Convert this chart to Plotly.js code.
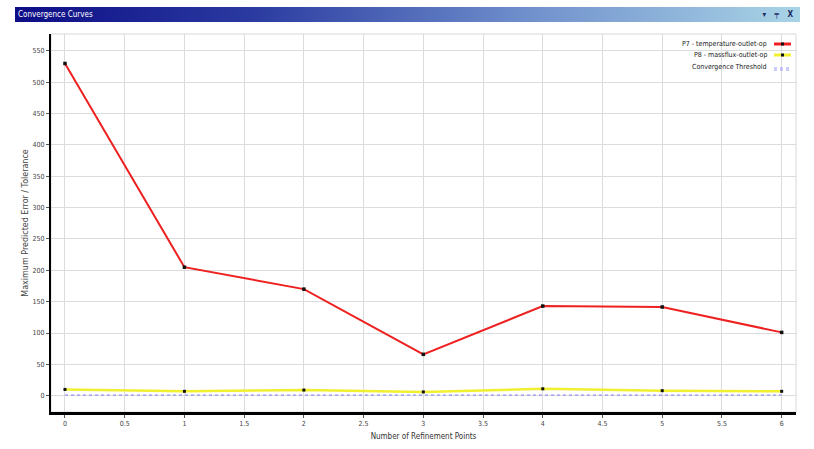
<!DOCTYPE html>
<html>
<head>
<meta charset="utf-8">
<script src="https://cdn.plot.ly/plotly-3.0.1.min.js"></script>
<style>
  html, body { margin: 0; padding: 0; background: #fff; }
  #wrap { position: relative; width: 814px; height: 449px; }
  #chart { position: absolute; left: 0; top: 0; width: 814px; height: 449px; }
  #bar { position: absolute; left: 15px; top: 7px; width: 785px; height: 15px;
         background: linear-gradient(to right, #0d0d86 0%, #2a3aa0 30%, #6f8fcc 65%, #a9d4e6 100%);
         font-family: "Liberation Sans Narrow", "DejaVu Sans Condensed", sans-serif;
         font-size: 8px; color: #fff; line-height: 15px; z-index: 5; }
  #bar .t { position: absolute; left: 3px; top: 0; }
  #bar .i { position: absolute; right: 4px; top: 0; color: #1a2a60; font-weight: bold; letter-spacing: 3px; font-size: 8px; }
</style>
</head>
<body>
<div id="wrap">
  <div id="chart"></div>
  <div id="bar"><span class="t">Convergence Curves</span><span class="i">▾ ╤ X</span></div>
</div>
<script>
// ---- data ----
const refinementPoints = [0, 1, 2, 3, 4, 5, 6];
const p7Temperature = [530, 205, 170, 66, 143, 141.5, 101];
const p8Massflux = [10, 7, 9, 6, 11, 8, 7];
const convergenceThreshold = [1, 1, 1, 1, 1, 1, 1];
const seriesNames = ["P7 - temperature-outlet-op", "P8 - massflux-outlet-op", "Convergence Threshold"];
const xTickVals = [0, 0.5, 1, 1.5, 2, 2.5, 3, 3.5, 4, 4.5, 5, 5.5, 6];
const xTickText = ["0", "0.5", "1", "1.5", "2", "2.5", "3", "3.5", "4", "4.5", "5", "5.5", "6"];
const yTickVals = [0, 50, 100, 150, 200, 250, 300, 350, 400, 450, 500, 550];

const tickFont = { family: "DejaVu Sans Condensed, Liberation Sans Narrow, sans-serif", size: 7, color: "#444" };

const traces = [
  { x: refinementPoints, y: convergenceThreshold, name: seriesNames[2], mode: "lines",
    line: { color: "#7b7bf0", width: 1, dash: "dot" }, hoverinfo: "skip" },
  { x: refinementPoints, y: p8Massflux, name: seriesNames[1], mode: "lines+markers",
    line: { color: "#f0f030", width: 2.5 }, marker: { symbol: "square", size: 3, color: "#111" } },
  { x: refinementPoints, y: p7Temperature, name: seriesNames[0], mode: "lines+markers",
    line: { color: "#ee2020", width: 2 }, marker: { symbol: "square", size: 3.5, color: "#111" } }
];

// legend drawn manually (text on the left, symbol on the right as in the reference)
const legendY = [44, 55, 67];
const H = 449, W = 814;
const ml = 51, mr = 18, mt = 34, mb = 37;
const pw = W - ml - mr, ph = H - mt - mb;
function px2x(px) { return (px - ml) / pw; }
function py2y(py) { return 1 - (py - mt) / ph; }

const legendColors = ["#ee2020", "#f0f030"];
const annotations = seriesNames.map((n, i) => ({
  xref: "paper", yref: "paper", x: px2x(769), y: py2y(legendY[i]),
  xanchor: "right", yanchor: "middle", showarrow: false, text: n,
  font: { family: "Liberation Sans Narrow, DejaVu Sans Condensed, sans-serif", size: 7, color: "#222" }
}));

const shapes = [
  { type: "rect", xref: "paper", yref: "paper", x0: 0, x1: 1, y0: 0, y1: 1,
    line: { color: "#d8d8d8", width: 1 }, layer: "below" }
];
for (let i = 0; i < 2; i++) {
  shapes.push({ type: "line", xref: "paper", yref: "paper", x0: px2x(774), x1: px2x(791),
    y0: py2y(legendY[i]), y1: py2y(legendY[i]), line: { color: legendColors[i], width: 3 } });
  shapes.push({ type: "rect", xref: "paper", yref: "paper", x0: px2x(781), x1: px2x(784),
    y0: py2y(legendY[i] - 1.5), y1: py2y(legendY[i] + 1.5), line: { width: 0 }, fillcolor: "#111" });
}
[legendY[2] + 1, legendY[2] + 3].forEach(yy => shapes.push({
  type: "line", xref: "paper", yref: "paper", x0: px2x(774), x1: px2x(791),
  y0: py2y(yy), y1: py2y(yy), line: { color: "#9a9af5", width: 1.2, dash: "dot" } }));

const layout = {
  width: W, height: H,
  margin: { l: ml, r: mr, t: mt, b: mb, pad: 0 },
  paper_bgcolor: "#fff", plot_bgcolor: "#fff",
  showlegend: false,
  xaxis: {
    range: [-0.117, 6.12], tickvals: xTickVals, ticktext: xTickText,
    showgrid: true, gridcolor: "#dcdcdc", gridwidth: 1, zeroline: false,
    showline: true, linecolor: "#000", linewidth: 3,
    ticks: "outside", ticklen: 3, tickcolor: "#555", tickfont: tickFont,
    title: { text: "Number of Refinement Points", standoff: 6,
      font: { family: "DejaVu Sans Condensed, Liberation Sans Narrow, sans-serif", size: 8, color: "#333" } },
    automargin: false
  },
  yaxis: {
    range: [-26, 577], tickvals: yTickVals,
    showgrid: true, gridcolor: "#dcdcdc", gridwidth: 1, zeroline: false,
    showline: true, linecolor: "#000", linewidth: 2,
    ticks: "outside", ticklen: 3, tickcolor: "#555", tickfont: tickFont,
    title: { text: "Maximum Predicted Error / Tolerance", standoff: 3,
      font: { family: "DejaVu Sans, sans-serif", size: 8, color: "#444" } },
    automargin: false
  },
  annotations: annotations,
  shapes: shapes
};

Plotly.newPlot("chart", traces, layout, { displayModeBar: false, staticPlot: true });
</script>
</body>
</html>
